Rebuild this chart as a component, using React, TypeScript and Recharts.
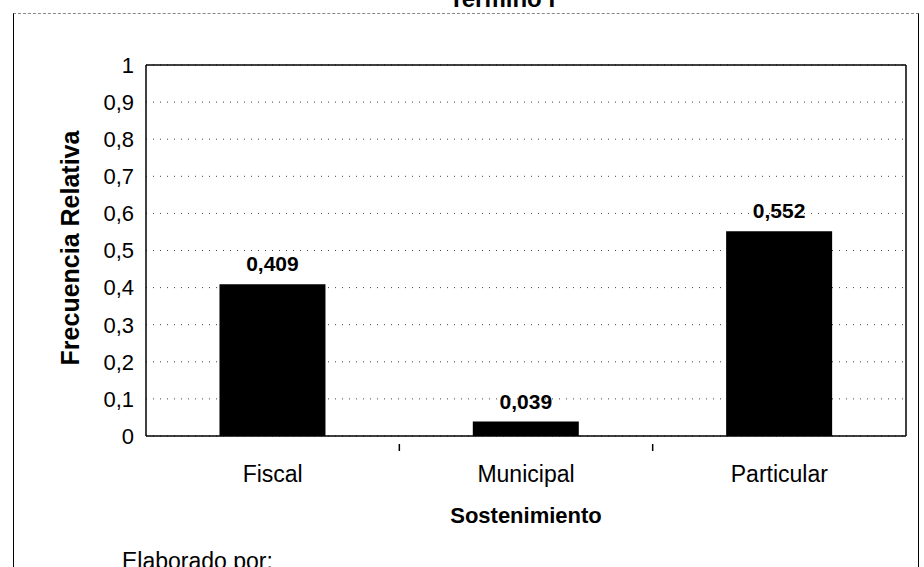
import React from "react";
import { BarChart, Bar, XAxis, YAxis, CartesianGrid, LabelList } from "recharts";

const categories = ["Fiscal", "Municipal", "Particular"];
const frecuencia = [0.409, 0.039, 0.552];
const yTicks = [0, 0.1, 0.2, 0.3, 0.4, 0.5, 0.6, 0.7, 0.8, 0.9, 1];

const data = categories.map((c, i) => ({ name: c, value: frecuencia[i] }));

const W = 924;
const H = 567;
const M = { top: 64, right: 17, bottom: 100, left: 88 };
const YW = 58;
const XH = 31;
const PLOT_W = W - M.left - M.right - YW - 1;
const HALF_BAND = PLOT_W / categories.length / 2;

const FONT = "'Liberation Sans', Arial, sans-serif";
const fmt = (v: number) => (v === 0 || v === 1 ? String(v) : v.toFixed(1).replace(".", ","));
const fmtLabel = (v: number) => v.toFixed(3).replace(".", ",");

const CatTick = (props: any) => {
  const { x, y, payload, index } = props;
  return (
    <g>
      {index < categories.length - 1 && (
        <line x1={x + HALF_BAND} x2={x + HALF_BAND} y1={y} y2={y + 7} stroke="#000" strokeWidth={1.5} />
      )}
      <text x={x} y={y + 38} textAnchor="middle" fontFamily={FONT} fontSize={23} fill="#000">
        {payload.value}
      </text>
    </g>
  );
};

export default function App() {
  return (
    <div style={{ position: "absolute", left: 0, top: 0, width: W, height: H, overflow: "hidden", background: "#fff" }}>
      <div
        style={{
          position: "absolute",
          left: 13,
          top: 13,
          width: 904,
          height: 600,
          borderLeft: "1.5px solid #000",
          borderRight: "1.5px solid #000",
          borderTop: "1px dashed #888",
        }}
      />
      <div
        style={{
          position: "absolute",
          left: 40,
          width: W,
          top: -15,
          textAlign: "center",
          fontFamily: FONT,
          fontWeight: "bold",
          fontSize: 24,
        }}
      >
        Termino I
      </div>
      <div
        style={{
          position: "absolute",
          left: 122,
          top: 548,
          fontFamily: FONT,
          fontSize: 23,
        }}
      >
        Elaborado por:
      </div>
      <div style={{ position: "absolute", left: 0, top: 0 }}>
        <BarChart width={W} height={H} data={data} margin={M} barCategoryGap="29%">
          <CartesianGrid xAxisId="main" yAxisId="main" horizontal vertical={false} stroke="#444" strokeDasharray="1 6" />
          <XAxis
            xAxisId="main"
            dataKey="name"
            height={XH}
            tickLine={false}
            axisLine={{ stroke: "#000", strokeWidth: 1.5 }}
            tick={<CatTick />}
            interval={0}
          />
          <XAxis xAxisId="top" orientation="top" dataKey="name" tick={false} tickLine={false} axisLine={{ stroke: "#000", strokeWidth: 1.5 }} height={1} />
          <YAxis
            yAxisId="main"
            width={YW}
            domain={[0, 1]}
            ticks={yTicks}
            tickFormatter={fmt}
            tickLine={false}
            axisLine={{ stroke: "#000", strokeWidth: 1.5 }}
            tick={{ fontFamily: FONT, fontSize: 22, fill: "#000", dx: -4 }}
          />
          <YAxis yAxisId="right" orientation="right" domain={[0, 1]} tick={false} tickLine={false} axisLine={{ stroke: "#000", strokeWidth: 1.5 }} width={1} />
          <Bar xAxisId="main" yAxisId="main" dataKey="value" fill="#000" isAnimationActive={false}>
            <LabelList
              dataKey="value"
              position="top"
              offset={13}
              formatter={(v: any) => fmtLabel(Number(v))}
              style={{ fontFamily: FONT, fontWeight: "bold", fontSize: 21, fill: "#000" }}
            />
          </Bar>
        </BarChart>
      </div>
      <div
        style={{
          position: "absolute",
          left: 146,
          width: 760,
          top: 503,
          textAlign: "center",
          fontFamily: FONT,
          fontWeight: "bold",
          fontSize: 22,
        }}
      >
        Sostenimiento
      </div>
      <div
        style={{
          position: "absolute",
          left: 70 - 150,
          top: 248 - 15,
          width: 300,
          height: 30,
          lineHeight: "30px",
          textAlign: "center",
          transform: "rotate(-90deg)",
          fontFamily: FONT,
          fontWeight: "bold",
          fontSize: 25,
        }}
      >
        Frecuencia Relativa
      </div>
    </div>
  );
}
